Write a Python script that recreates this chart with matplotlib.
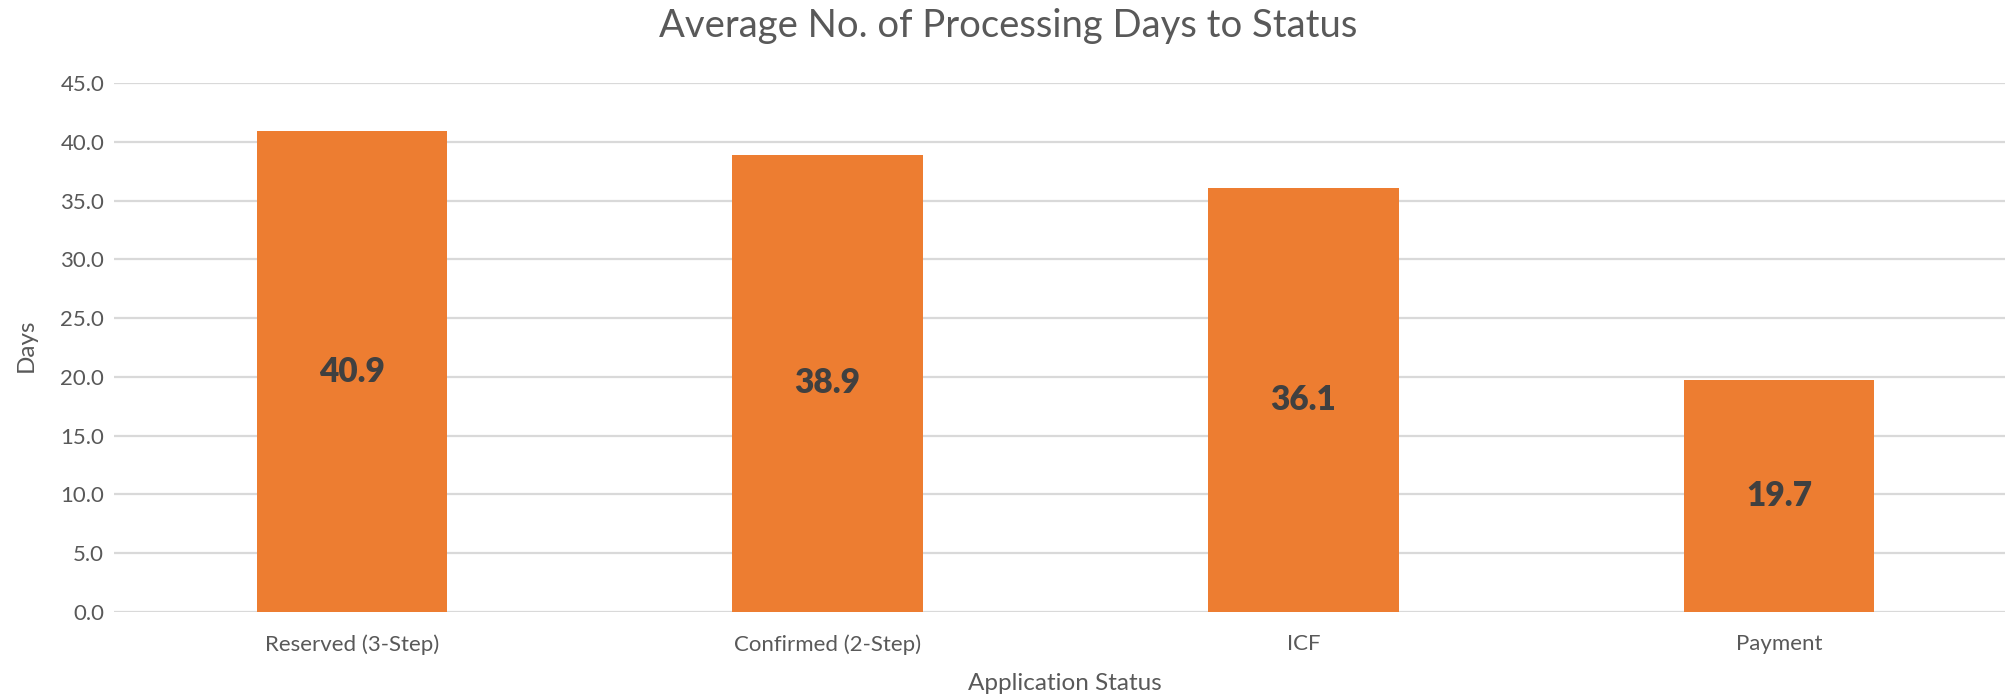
import matplotlib
matplotlib.use('Agg')
import matplotlib.pyplot as plt

statuses = ['Reserved (3-Step)', 'Confirmed (2-Step)', 'ICF', 'Payment']
avg_days = [40.9, 38.9, 36.1, 19.7]
y_ticks = [0, 5, 10, 15, 20, 25, 30, 35, 40, 45]

plt.rcParams['font.family'] = ['Lato', 'DejaVu Sans']

fig = plt.figure(figsize=(20.05, 6.96), dpi=100)
ax = fig.add_axes([114 / 2005, 1 - 612 / 696, (2017 - 114) / 2005, (612 - 83) / 696])

x = range(len(statuses))
bars = ax.bar(x, avg_days, width=0.4, color='#ED7D31', zorder=3)
for b, v in zip(bars, avg_days):
    ax.text(b.get_x() + b.get_width() / 2, v / 2, '%.1f' % v, ha='center', va='center',
            fontsize=24, fontweight='heavy', color='#404040', zorder=4)

ax.set_xlim(-0.5, len(statuses) - 0.5)
ax.set_ylim(0, 45)
ax.set_yticks(y_ticks)
ax.set_yticklabels(['%.1f' % t for t in y_ticks])
ax.set_xticks(list(x))
ax.set_xticklabels(statuses)
ax.tick_params(axis='both', length=0, labelsize=16, colors='#595959')
ax.tick_params(axis='x', pad=16)
ax.tick_params(axis='y', pad=7)
ax.yaxis.grid(True, color='#D9D9D9', linewidth=1.6, zorder=0)
for s in ax.spines.values():
    s.set_visible(False)

fig.text(0.503, 1 - 26 / 696, 'Average No. of Processing Days to Status', ha='center', va='center',
         fontsize=27.5, color='#595959')
fig.text(1065 / 2005, 1 - 683 / 696, 'Application Status', ha='center', va='center', fontsize=17.5, color='#595959')
fig.text(26 / 2005, 1 - 345 / 696, 'Days', ha='center', va='center', rotation=90, fontsize=17.5, color='#595959')

fig.savefig('out.png', dpi=100)
